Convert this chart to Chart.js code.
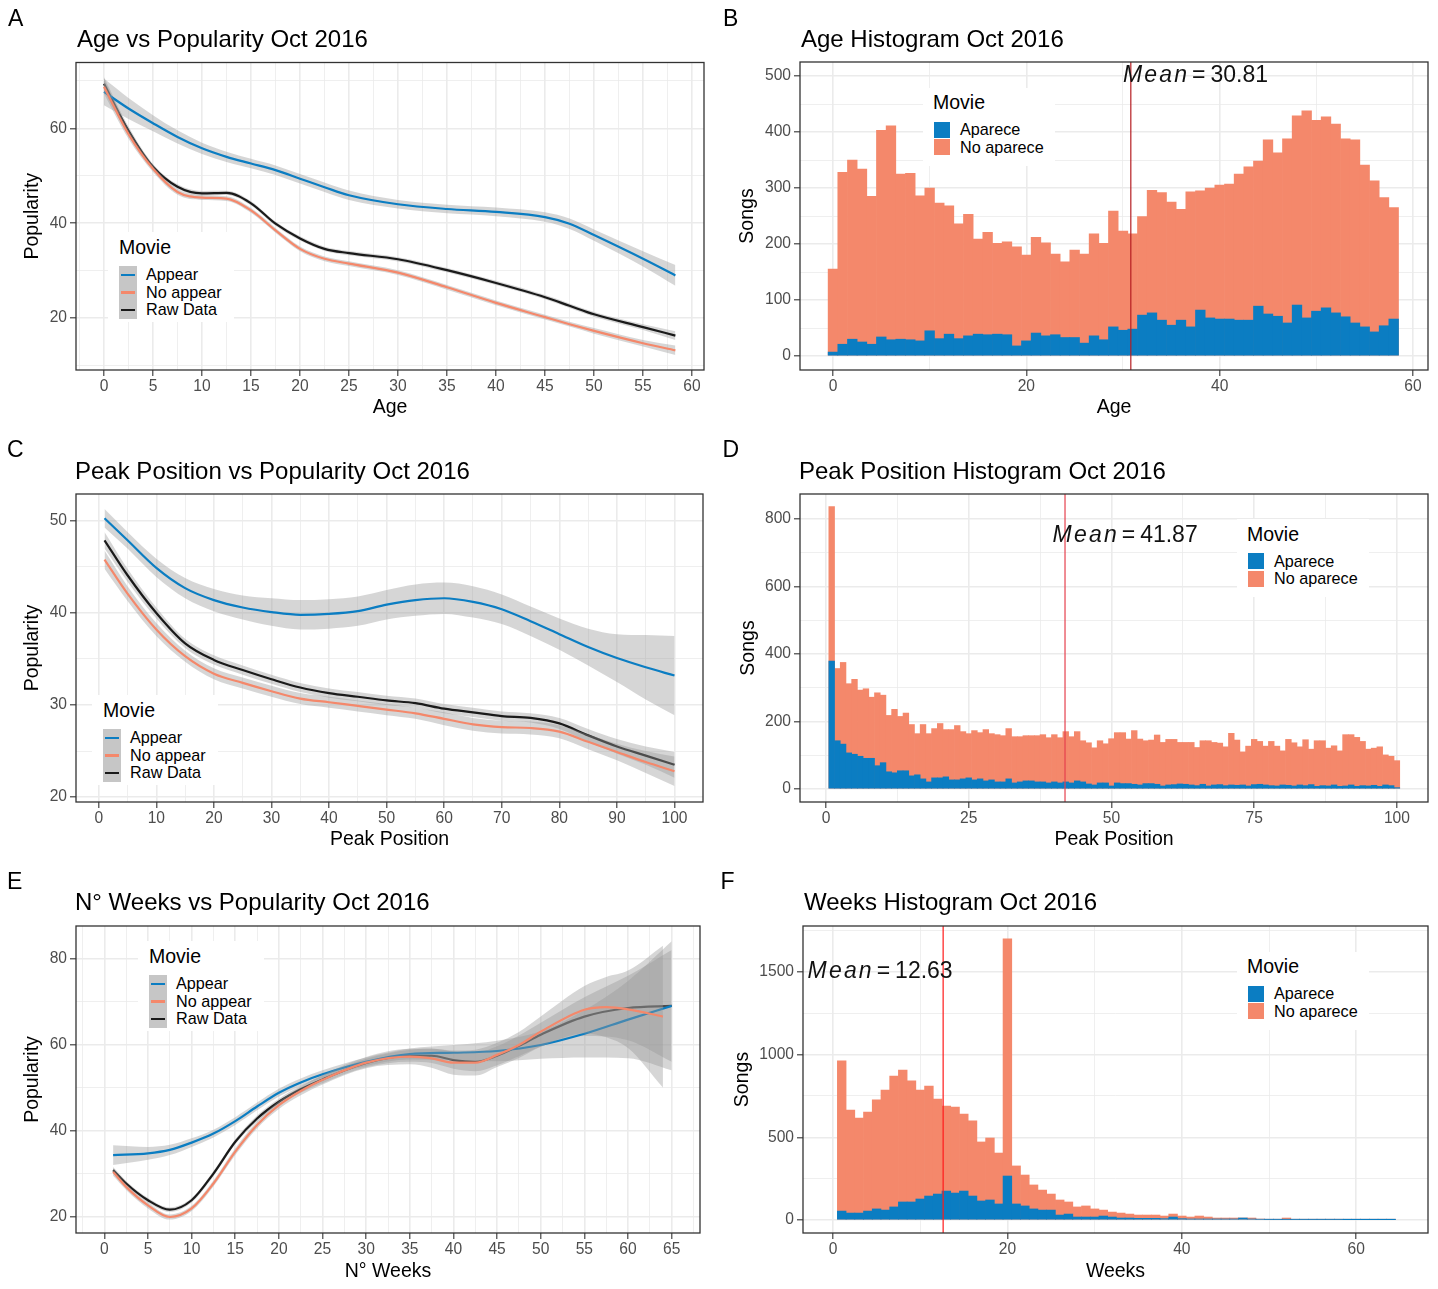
<!DOCTYPE html>
<html>
<head>
<meta charset="utf-8">
<title>Popularity Oct 2016</title>
<script src="https://cdn.jsdelivr.net/npm/chart.js@4.4.1/dist/chart.umd.min.js"></script>
<style>
  html, body { margin: 0; padding: 0; background: #fff; }
  body { position: relative; width: 1438px; height: 1289px; overflow: hidden;
         font-family: 'Liberation Sans', Arial, Helvetica, sans-serif; }
  canvas { position: absolute; }
  .txt { position: absolute; white-space: nowrap; line-height: 1; color: #000; font-size: 23px; }
  .ttl { font-size: 24px; }
  .leg { position: absolute; background: #fff; }
  .leg-t { position: absolute; font-size: 19.5px; line-height: 1; color: #000; white-space: nowrap; }
  .leg-l { position: absolute; font-size: 16.2px; line-height: 17.6px; color: #000; white-space: nowrap; }
</style>
</head>
<body>
<canvas id="cA" width="719" height="432" style="left:0;top:0"></canvas>
<canvas id="cB" width="719" height="432" style="left:719px;top:0"></canvas>
<canvas id="cC" width="719" height="432" style="left:0;top:432px"></canvas>
<canvas id="cD" width="719" height="432" style="left:719px;top:432px"></canvas>
<canvas id="cE" width="719" height="432" style="left:0;top:864px"></canvas>
<canvas id="cF" width="719" height="432" style="left:719px;top:864px"></canvas>
<script>
const FONT = "'Liberation Sans', Arial, Helvetica, sans-serif";
const BLUE = '#0b7dc2', SALMON = '#f4886b', RAW = '#1a1a1a';
const BAND = 'rgba(153,153,153,0.4)';
const GRID = '#ebebeb';

const smoothLabels = ['Appear', 'No appear', 'Raw Data'];
const histLabels   = ['Aparece', 'No aparece'];

// ── A: Age vs Popularity (loess fits + se) ───────────────────
const ageX          = [0, 2.5, 5, 7.5, 10, 12.5, 15, 17.5, 20, 22.5, 25, 30, 35, 40, 45, 47.5, 50, 55, 58.3];
const ageAppear     = [67.7, 64.2, 61.1, 58.2, 55.8, 54.0, 52.6, 51.2, 49.4, 47.6, 45.9, 44.0, 43.0, 42.4, 41.3, 39.9, 37.5, 32.5, 29.0];
const ageAppearSe   = [2.8, 2.2, 1.7, 1.4, 1.2, 1.1, 1.0, 1.0, 1.0, 1.0, 1.0, 0.9, 0.9, 0.9, 1.0, 1.1, 1.2, 1.6, 2.2];
const ageNoAppear   = [68.8, 58.8, 51.5, 46.6, 45.4, 45.2, 42.7, 38.5, 34.6, 32.5, 31.5, 29.6, 26.5, 23.2, 20.2, 18.7, 17.3, 14.7, 13.2];
const ageNoAppearSe = [1.5, 1.0, 0.7, 0.6, 0.5, 0.5, 0.5, 0.5, 0.5, 0.5, 0.5, 0.5, 0.5, 0.5, 0.5, 0.5, 0.6, 0.7, 1.0];
const ageRaw        = [69.4, 59.5, 51.9, 47.7, 46.3, 46.4, 44.2, 39.9, 36.8, 34.6, 33.7, 32.4, 30.1, 27.4, 24.4, 22.6, 20.8, 18.1, 16.3];
const ageRawSe      = [1.4, 0.9, 0.6, 0.5, 0.5, 0.45, 0.45, 0.45, 0.45, 0.45, 0.45, 0.45, 0.45, 0.45, 0.45, 0.5, 0.5, 0.6, 0.9];

// ── B: Age histogram ─────────────────────────────────────────
const ageBins   = Array.from({ length: 59 }, (_, i) => i);
const ageTotal  = [155, 328, 350, 334, 285, 403, 411, 325, 326, 286,
                   300, 273, 268, 236, 253, 209, 221, 201, 204, 195,
                   180, 212, 202, 182, 168, 189, 182, 218, 201, 259,
                   223, 218, 249, 296, 292, 275, 262, 293, 295, 300,
                   305, 307, 325, 338, 348, 386, 363, 388, 429, 438,
                   421, 427, 414, 388, 386, 341, 313, 283, 265];
const ageAparece = [7, 21, 30, 25, 21, 34, 29, 30, 29, 27,
                    45, 31, 39, 31, 36, 39, 38, 39, 38, 18,
                    27, 41, 36, 38, 33, 33, 23, 36, 29, 52,
                    46, 48, 73, 77, 64, 55, 64, 52, 82, 68,
                    66, 66, 64, 64, 89, 75, 71, 59, 91, 68,
                    80, 86, 77, 70, 59, 52, 43, 54, 66];
const ageMean = 30.81;
const ageMeanLabel = [37.5, 500];

// ── C: Peak position vs Popularity ───────────────────────────
const peakX          = [1, 5, 10, 15, 20, 25, 30, 35, 40, 45, 50, 55, 60, 65, 70, 75, 80, 85, 90, 95, 100];
const peakAppear     = [50.3, 47.9, 44.9, 42.7, 41.4, 40.6, 40.1, 39.8, 39.9, 40.2, 40.9, 41.4, 41.6, 41.2, 40.4, 39.1, 37.7, 36.3, 35.1, 34.1, 33.2];
const peakAppearSe   = [1.0, 0.9, 1.0, 1.1, 1.2, 1.3, 1.5, 1.6, 1.6, 1.6, 1.6, 1.7, 1.7, 1.7, 1.6, 1.6, 1.7, 2.0, 2.6, 3.5, 4.3];
const peakNoAppear   = [45.8, 42.1, 38.2, 35.3, 33.4, 32.4, 31.5, 30.7, 30.3, 29.9, 29.5, 29.1, 28.5, 27.9, 27.6, 27.5, 27.1, 26.0, 24.9, 23.8, 22.8];
const peakNoAppearSe = [1.0, 0.8, 0.7, 0.6, 0.6, 0.6, 0.6, 0.6, 0.6, 0.6, 0.6, 0.6, 0.7, 0.7, 0.7, 0.7, 0.7, 0.8, 0.9, 1.2, 1.6];
const peakRaw        = [47.9, 44.1, 40.0, 36.7, 34.9, 33.8, 32.8, 31.9, 31.3, 30.9, 30.5, 30.2, 29.6, 29.2, 28.8, 28.6, 28.0, 26.7, 25.5, 24.5, 23.5];
const peakRawSe      = [0.9, 0.7, 0.6, 0.5, 0.5, 0.5, 0.5, 0.5, 0.5, 0.5, 0.5, 0.5, 0.5, 0.5, 0.5, 0.5, 0.6, 0.7, 0.8, 1.0, 1.4];

// ── D: Peak position histogram ───────────────────────────────
const peakBins  = Array.from({ length: 100 }, (_, i) => i + 1);
const peakTotal = [837, 357, 375, 312, 325, 293, 297, 272, 285, 278,
                   218, 236, 215, 225, 191, 164, 191, 164, 179, 194,
                   176, 176, 188, 170, 164, 173, 167, 176, 164, 161,
                   158, 179, 155, 155, 158, 158, 158, 161, 152, 161,
                   152, 170, 155, 170, 143, 137, 122, 143, 134, 149,
                   167, 167, 148, 173, 148, 143, 145, 160, 138, 147,
                   147, 138, 138, 138, 123, 143, 143, 138, 136, 125,
                   165, 145, 110, 127, 147, 141, 127, 141, 127, 113,
                   147, 137, 125, 146, 118, 143, 143, 121, 128, 113,
                   161, 161, 153, 141, 118, 121, 125, 101, 97, 84];
const peakAparece = [379, 143, 133, 107, 103, 97, 91, 91, 69, 78,
                     51, 48, 54, 54, 39, 42, 30, 21, 33, 33,
                     36, 27, 27, 30, 33, 27, 30, 24, 27, 21,
                     21, 30, 18, 21, 24, 24, 21, 21, 18, 21,
                     18, 21, 18, 24, 21, 15, 12, 18, 18, 9,
                     18, 16, 16, 14, 12, 16, 16, 14, 9, 12,
                     13, 15, 14, 12, 10, 14, 9, 12, 13, 10,
                     12, 11, 12, 9, 13, 14, 12, 10, 9, 12,
                     11, 9, 12, 10, 13, 8, 10, 9, 12, 8,
                     9, 12, 8, 10, 9, 11, 8, 12, 10, 4];
const peakMean = 41.87;
const peakMeanLabel = [52.4, 750];

// ── E: Weeks vs Popularity ───────────────────────────────────
const weeksAppearX     = [1, 5, 7.5, 10, 12.5, 15, 17.5, 20, 22.5, 25, 30, 35, 40, 45, 50, 55, 60, 65];
const weeksAppear      = [34.4, 34.8, 35.6, 37.3, 39.4, 42.3, 45.7, 48.9, 51.3, 53.2, 56.1, 57.9, 58.2, 58.6, 60.0, 62.6, 65.9, 69.1];
const weeksAppearSe    = [2.3, 1.5, 1.2, 1.0, 0.9, 0.9, 0.9, 0.9, 0.9, 0.9, 1.0, 1.3, 1.8, 2.4, 3.2, 5.5, 9.0, 15.0];
const weeksNoAppearX   = [1, 2.5, 5, 7.5, 10, 12.5, 15, 17.5, 20, 22.5, 25, 30, 35, 37.5, 40, 42.5, 45, 47.5, 50, 55, 57.5, 60, 64];
const weeksNoAppear    = [30.5, 27.0, 22.7, 20.0, 22.0, 27.8, 35.2, 41.4, 46.0, 49.3, 51.9, 55.9, 57.3, 56.9, 55.9, 55.9, 57.7, 60.0, 63.1, 68.2, 68.8, 68.3, 66.6];
const weeksNoAppearSe  = [0.9, 0.7, 0.7, 0.6, 0.6, 0.7, 0.8, 0.8, 0.9, 1.0, 1.1, 1.3, 1.8, 2.2, 2.8, 3.0, 2.8, 3.0, 3.5, 5.5, 7.0, 9.0, 16.5];
const weeksRawX        = [1, 2.5, 5, 7.5, 10, 12.5, 15, 17.5, 20, 22.5, 25, 30, 35, 37.5, 40, 42.5, 45, 47.5, 50, 55, 60, 65];
const weeksRaw         = [30.9, 27.8, 23.9, 21.7, 23.9, 30.1, 37.5, 42.9, 46.8, 49.7, 52.0, 55.8, 57.5, 57.5, 56.5, 56.1, 57.5, 59.8, 62.4, 66.6, 68.6, 69.1];
const weeksRawSe       = [0.7, 0.6, 0.5, 0.5, 0.5, 0.6, 0.6, 0.7, 0.7, 0.8, 0.9, 1.0, 1.4, 1.7, 2.0, 2.2, 2.2, 2.4, 2.8, 4.5, 7.5, 13.0];

// ── F: Weeks histogram ───────────────────────────────────────
const weeksBins  = Array.from({ length: 64 }, (_, i) => i + 1);
const weeksTotal = [962, 665, 617, 653, 726, 786, 871, 907, 841, 786,
                    810, 732, 689, 683, 641, 599, 472, 496, 405, 1700,
                    327, 272, 212, 181, 157, 121, 109, 79, 85, 67,
                    60, 48, 42, 36, 30, 30, 30, 24, 36, 24,
                    18, 24, 18, 12, 12, 12, 12, 12, 6, 4,
                    4, 12, 4, 3, 3, 3, 3, 3, 2, 2,
                    2, 2, 2, 2];
const weeksAparece = [54, 42, 42, 54, 67, 60, 79, 109, 109, 127,
                      145, 157, 175, 163, 175, 145, 115, 121, 97, 266,
                      97, 85, 67, 60, 60, 30, 36, 18, 18, 18,
                      24, 18, 12, 12, 10, 10, 10, 8, 18, 8,
                      6, 6, 6, 6, 6, 6, 12, 6, 4, 3,
                      3, 3, 3, 3, 3, 3, 3, 3, 2, 2,
                      2, 2, 2, 2];
const weeksMean = 12.63;
const weeksMeanLabel = [5.4, 1500];

// ── Tick breaks ──────────────────────────────────────────────
const ageTicks     = [0, 5, 10, 15, 20, 25, 30, 35, 40, 45, 50, 55, 60];
const ageMinor     = [-2.5, 2.5, 7.5, 12.5, 17.5, 22.5, 27.5, 32.5, 37.5, 42.5, 47.5, 52.5, 57.5];
const popTicksA    = [20, 40, 60];
const popMinorA    = [10, 30, 50, 70];
const ageHistTicks = [0, 20, 40, 60];
const ageHistMinor = [10, 30, 50];
const songTicksB   = [0, 100, 200, 300, 400, 500];
const songMinorB   = [50, 150, 250, 350, 450];
const peakTicks    = [0, 10, 20, 30, 40, 50, 60, 70, 80, 90, 100];
const peakMinor    = [5, 15, 25, 35, 45, 55, 65, 75, 85, 95];
const popTicksC    = [20, 30, 40, 50];
const popMinorC    = [25, 35, 45];
const peakHistTicks = [0, 25, 50, 75, 100];
const peakHistMinor = [12.5, 37.5, 62.5, 87.5];
const songTicksD   = [0, 200, 400, 600, 800];
const songMinorD   = [100, 300, 500, 700];
const weekTicks    = [0, 5, 10, 15, 20, 25, 30, 35, 40, 45, 50, 55, 60, 65];
const weekMinor    = [-2.5, 2.5, 7.5, 12.5, 17.5, 22.5, 27.5, 32.5, 37.5, 42.5, 47.5, 52.5, 57.5, 62.5, 67.5];
const popTicksE    = [20, 40, 60, 80];
const popMinorE    = [30, 50, 70];
const weekHistTicks = [0, 20, 40, 60];
const weekHistMinor = [10, 30, 50];
const songTicksF   = [0, 500, 1000, 1500];
const songMinorF   = [250, 750, 1250, 1750];

// ── Plugins ──────────────────────────────────────────────────
const panelBox = {
  id: 'panelBox',
  afterDraw(chart) {
    const { ctx, chartArea: a } = chart;
    ctx.save();
    ctx.strokeStyle = '#333333';
    ctx.lineWidth = 1.3;
    ctx.strokeRect(a.left, a.top, a.right - a.left, a.bottom - a.top);
    ctx.restore();
  }
};

const meanMark = {
  id: 'meanMark',
  afterDatasetsDraw(chart, args, opts) {
    if (opts.value === undefined) return;
    const { ctx, chartArea: a, scales: { x, y } } = chart;
    const px = x.getPixelForValue(opts.value);
    ctx.save();
    ctx.beginPath(); ctx.rect(a.left, a.top, a.right - a.left, a.bottom - a.top); ctx.clip();
    ctx.strokeStyle = opts.color; ctx.lineWidth = 1.2;
    ctx.beginPath(); ctx.moveTo(px, a.top); ctx.lineTo(px, a.bottom); ctx.stroke();
    ctx.restore();

    // "Mean == value" label, plotmath style
    const it = `italic 23px ${FONT}`, up = `23px ${FONT}`;
    const letters = 'Mean'.split('');
    const gap = 5;
    ctx.save();
    ctx.fillStyle = '#111';
    ctx.textBaseline = 'middle';
    ctx.textAlign = 'left';
    ctx.font = it;
    const lw = letters.map(c => ctx.measureText(c).width);
    const wMean = lw.reduce((s, w) => s + w, 0) + 2.2 * (letters.length - 1);
    ctx.font = up;
    const wEq = ctx.measureText('=').width + 2 * gap;
    const num = String(opts.value);
    const wNum = ctx.measureText(num).width;
    let cx = x.getPixelForValue(opts.labelX) - (wMean + wEq + wNum) / 2;
    const cy = y.getPixelForValue(opts.labelY);
    ctx.font = it;
    letters.forEach((c, i) => { ctx.fillText(c, cx, cy); cx += lw[i] + (i < letters.length - 1 ? 2.2 : 0); });
    cx += gap;
    ctx.font = up;
    ctx.fillText('=', cx, cy);
    cx += wEq - gap;
    ctx.fillText(num, cx, cy);
    ctx.restore();
  }
};

// ── Helpers ──────────────────────────────────────────────────
function pts(xs, ys) { return xs.map((x, i) => ({ x, y: ys[i] })); }
function edge(xs, ys, se, s) { return xs.map((x, i) => ({ x, y: ys[i] + s * se[i] })); }

function smoothSets(xs, ys, se, color) {
  const base = { pointRadius: 0, cubicInterpolationMode: 'monotone' };
  return [
    { ...base, data: pts(xs, ys), borderColor: color, borderWidth: 2.2, fill: false },
    { ...base, data: edge(xs, ys, se, 1), borderWidth: 0, borderColor: 'rgba(0,0,0,0)', fill: false },
    { ...base, data: edge(xs, ys, se, -1), borderWidth: 0, borderColor: 'rgba(0,0,0,0)', backgroundColor: BAND, fill: '-1' },
  ];
}

function histSets(bins, aparece, total) {
  const common = { barPercentage: 1, categoryPercentage: 1, grouped: false, borderWidth: 0 };
  return [
    { ...common, data: pts(bins, aparece), backgroundColor: BLUE, order: 0 },
    { ...common, data: pts(bins, total), backgroundColor: SALMON, order: 1 },
  ];
}

function scaleCfg(o) {
  const all = o.major.concat(o.minor).sort((a, b) => a - b);
  const isMajor = v => o.major.includes(v);
  const horiz = o.axis === 'x';
  return {
    type: 'linear', position: horiz ? 'bottom' : 'left',
    min: o.min, max: o.max, offset: false,
    afterBuildTicks: s => { s.ticks = all.map(v => ({ value: v })); },
    afterFit: s => { if (horiz) s.height = o.size; else s.width = o.size; },
    ticks: {
      autoSkip: false, maxRotation: 0, minRotation: 0, padding: horiz ? 1 : 3,
      color: '#4d4d4d', font: { family: FONT, size: 15.6 },
      callback: v => isMajor(v) ? String(v) : ''
    },
    grid: {
      offset: false, color: GRID, drawTicks: true, tickLength: 6, tickWidth: 1.1,
      lineWidth: c => (c.tick && isMajor(c.tick.value)) ? 1.6 : 0.8,
      tickColor: c => (c.tick && isMajor(c.tick.value)) ? '#333333' : 'rgba(0,0,0,0)'
    },
    border: { display: false },
    title: {
      display: true, text: o.title, color: '#000', font: { family: FONT, size: 19.5 },
      padding: horiz ? { top: 0, bottom: o.tpad } : { top: o.tpad, bottom: 0 }
    }
  };
}

function makeChart(id, type, datasets, o) {
  return new Chart(document.getElementById(id), {
    type,
    data: { datasets },
    options: {
      responsive: false, animation: false, devicePixelRatio: 1,
      layout: { padding: { left: 0, top: o.top, right: o.right, bottom: 0 } },
      plugins: { legend: { display: false }, tooltip: { enabled: false }, meanMark: o.mean || {} },
      scales: { x: scaleCfg(o.x), y: scaleCfg(o.y) }
    },
    plugins: [panelBox, meanMark]
  });
}

// ── Charts ───────────────────────────────────────────────────
makeChart('cA', 'line', [
  ...smoothSets(ageX, ageNoAppear, ageNoAppearSe, SALMON),
  ...smoothSets(ageX, ageAppear, ageAppearSe, BLUE),
  ...smoothSets(ageX, ageRaw, ageRawSe, RAW),
], {
  top: 62.5, right: 15,
  x: { axis: 'x', min: -2.857, max: 61.22, major: ageTicks, minor: ageMinor, size: 62, title: 'Age', tpad: 13 },
  y: { axis: 'y', min: 9.05, max: 73.9, major: popTicksA, minor: popMinorA, size: 76, title: 'Popularity', tpad: 21 }
});

makeChart('cB', 'bar', histSets(ageBins, ageAparece, ageTotal), {
  top: 62, right: 10,
  x: { axis: 'x', min: -3.41, max: 61.55, major: ageHistTicks, minor: ageHistMinor, size: 62, title: 'Age', tpad: 13 },
  y: { axis: 'y', min: -25, max: 525, major: songTicksB, minor: songMinorB, size: 81, title: 'Songs', tpad: 16.5 },
  mean: { value: ageMean, color: '#b51d22', labelX: ageMeanLabel[0], labelY: ageMeanLabel[1] }
});

makeChart('cC', 'line', [
  ...smoothSets(peakX, peakNoAppear, peakNoAppearSe, SALMON),
  ...smoothSets(peakX, peakAppear, peakAppearSe, BLUE),
  ...smoothSets(peakX, peakRaw, peakRawSe, RAW),
], {
  top: 62, right: 16,
  x: { axis: 'x', min: -3.95, max: 104.95, major: peakTicks, minor: peakMinor, size: 62, title: 'Peak Position', tpad: 13 },
  y: { axis: 'y', min: 19.46, max: 52.93, major: popTicksC, minor: popMinorC, size: 76, title: 'Popularity', tpad: 21 }
});

makeChart('cD', 'bar', histSets(peakBins, peakAparece, peakTotal), {
  top: 62, right: 10,
  x: { axis: 'x', min: -4.55, max: 105.45, major: peakHistTicks, minor: peakHistMinor, size: 62, title: 'Peak Position', tpad: 13 },
  y: { axis: 'y', min: -38.5, max: 874, major: songTicksD, minor: songMinorD, size: 81, title: 'Songs', tpad: 17.5 },
  mean: { value: peakMean, color: '#e5404e', labelX: peakMeanLabel[0], labelY: peakMeanLabel[1] }
});

makeChart('cE', 'line', [
  ...smoothSets(weeksNoAppearX, weeksNoAppear, weeksNoAppearSe, SALMON),
  ...smoothSets(weeksAppearX, weeksAppear, weeksAppearSe, BLUE),
  ...smoothSets(weeksRawX, weeksRaw, weeksRawSe, RAW),
], {
  top: 62, right: 19,
  x: { axis: 'x', min: -3.25, max: 68.25, major: weekTicks, minor: weekMinor, size: 63, title: 'N° Weeks', tpad: 13 },
  y: { axis: 'y', min: 16.28, max: 87.67, major: popTicksE, minor: popMinorE, size: 76, title: 'Popularity', tpad: 21 }
});

makeChart('cF', 'bar', histSets(weeksBins, weeksAparece, weeksTotal), {
  top: 62, right: 10,
  x: { axis: 'x', min: -3.44, max: 68.23, major: weekHistTicks, minor: weekHistMinor, size: 63, title: 'Weeks', tpad: 13 },
  y: { axis: 'y', min: -78.6, max: 1778, major: songTicksF, minor: songMinorF, size: 84, title: 'Songs', tpad: 11.5 },
  mean: { value: weeksMean, color: '#ff1a1a', labelX: weeksMeanLabel[0], labelY: weeksMeanLabel[1] }
});

// ── Tags, titles, legends (HTML overlay) ─────────────────────
function el(cls, css, text) {
  const d = document.createElement('div');
  d.className = cls;
  Object.assign(d.style, css);
  if (text) d.textContent = text;
  document.body.appendChild(d);
  return d;
}
const px = v => v + 'px';

[['A', 8, 7], ['B', 723, 7], ['C', 7, 438], ['D', 722.5, 438], ['E', 7, 870], ['F', 720.5, 870]]
  .forEach(([t, l, tp]) => el('txt', { left: px(l), top: px(tp) }, t));

[['Age vs Popularity Oct 2016', 77, 26.5], ['Age Histogram Oct 2016', 801, 26.5],
 ['Peak Position vs Popularity Oct 2016', 75, 458.5], ['Peak Position Histogram Oct 2016', 799, 458.5],
 ['N° Weeks vs Popularity Oct 2016', 75, 889.5], ['Weeks Histogram Oct 2016', 804, 889.5]]
  .forEach(([t, l, tp]) => el('txt ttl', { left: px(l), top: px(tp) }, t));

function lineLegend(kx, ky) {
  el('leg', { left: px(kx - 11), top: px(ky - 34), width: px(126), height: px(90) });
  el('leg-t', { left: px(kx), top: px(ky - 28.5) }, 'Movie');
  el('leg', { left: px(kx), top: px(ky), width: px(18), height: px(53), background: '#c6c6c6' });
  [BLUE, SALMON, RAW].forEach((c, i) => {
    el('leg', { left: px(kx + 2), top: px(ky + 7.8 + 17.6 * i), width: px(14), height: px(2.2), background: c });
    el('leg-l', { left: px(kx + 27), top: px(ky + 17.6 * i) }, smoothLabels[i]);
  });
}

function histLegend(kx, ky) {
  el('leg', { left: px(kx - 11), top: px(ky - 34), width: px(132), height: px(78) });
  el('leg-t', { left: px(kx - 1), top: px(ky - 28.5) }, 'Movie');
  [BLUE, SALMON].forEach((c, i) => {
    el('leg', { left: px(kx), top: px(ky + 17.5 * i), width: px(16), height: px(16), background: c });
    el('leg-l', { left: px(kx + 26), top: px(ky + 17.5 * i - 0.5) }, histLabels[i]);
  });
}

lineLegend(119, 266);
lineLegend(103, 729);
lineLegend(149, 975);
histLegend(934, 121.5);
histLegend(1248, 553);
histLegend(1248, 985.5);
</script>
</body>
</html>
